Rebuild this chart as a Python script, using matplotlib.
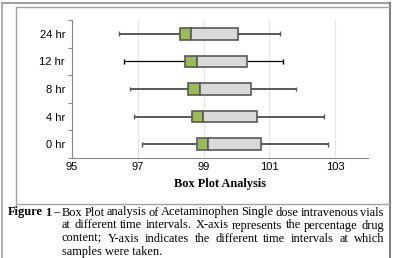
import matplotlib
matplotlib.use("Agg")
import matplotlib.pyplot as plt
from matplotlib.lines import Line2D

# ---- data ----
categories = ["0 hr", "4 hr", "8 hr", "12 hr", "24 hr"]
wmin = [97.13, 96.87, 96.77, 96.58, 96.42]
q1 = [98.80, 98.66, 98.53, 98.43, 98.28]
med = [99.13, 98.98, 98.88, 98.80, 98.61]
q3 = [100.74, 100.61, 100.43, 100.31, 100.06]
wmax = [102.78, 102.65, 101.80, 101.42, 101.32]
xticks = [95, 97, 99, 101, 103]
xlabel = "Box Plot Analysis"
caption_lines = [
    "Figure 1 \u2013 Box Plot analysis of Acetaminophen Single dose intravenous vials",
    "at different time intervals. X-axis represents the percentage drug",
    "content; Y-axis indicates the different time intervals at which",
    "samples were taken.",
]

W, H = 394, 258
fig = plt.figure(figsize=(W / 100, H / 100), dpi=100)
fig.patch.set_facecolor("white")

def fx(px):
    return px / W

def fy(py):
    return 1 - py / H

ax = fig.add_axes([fx(72), fy(158), fx(368) - fx(72), fy(20) - fy(158)])
ypos = list(range(len(categories)))
green = "#9BBB59"
light = "#D9D9D9"
edge = "#595959"
bh = 0.42
widths_lo = [m - a for m, a in zip(med, q1)]
widths_hi = [b - m for b, m in zip(q3, med)]
ax.barh(ypos, widths_lo, left=q1, height=bh, color=green, edgecolor=edge, linewidth=1.2, zorder=3)
ax.barh(ypos, widths_hi, left=med, height=bh, color=light, edgecolor=edge, linewidth=1.2, zorder=3)
for i, y in enumerate(ypos):
    c = "black" if categories[i] == "12 hr" else edge
    lw = 0.9 if categories[i] == "12 hr" else 1.4
    ax.hlines(y, wmin[i], q1[i], color=c, lw=lw, zorder=2)
    ax.hlines(y, q3[i], wmax[i], color=c, lw=lw, zorder=2)
    ax.vlines([wmin[i], wmax[i]], y - 0.09, y + 0.09, color=c, lw=1.0, zorder=2)

tick_font = "Liberation Sans"
ax.set_xlim(95, 104)
ax.set_ylim(-0.5, 4.5)
ax.set_xticks(xticks)
ax.set_xticklabels([str(t) for t in xticks], fontsize=8, family=tick_font)
ax.set_yticks(ypos)
ax.set_yticklabels(categories, fontsize=8, family=tick_font)
ax.set_yticks([y - 0.5 for y in range(len(categories) + 1)], minor=True)
ax.tick_params(axis="y", which="major", length=0, pad=5)
ax.tick_params(axis="y", which="minor", length=3, color="#868686", width=0.8)
ax.tick_params(axis="x", which="major", length=0, pad=3)
ax.grid(axis="x", color="#E6E6E6", lw=0.8, zorder=0)
for s in ["top", "right"]:
    ax.spines[s].set_visible(False)
for s in ["left", "bottom"]:
    ax.spines[s].set_color("#868686")
    ax.spines[s].set_linewidth(0.8)
ax.set_xlabel(xlabel, fontsize=8.8, family="Liberation Serif", fontweight="bold", labelpad=4)

# frames
def fline(xs, ys, color, lw):
    fig.add_artist(Line2D([fx(x) for x in xs], [fy(y) for y in ys], color=color, lw=lw,
                          transform=fig.transFigure))

fline([1.5, 390], [3, 3], "#A0A0A0", 1.5)
fline([1.5, 1.5], [3, 258], "#A0A0A0", 1.2)
fline([390, 390], [3, 258], "#808080", 1.5)
fline([16, 390], [7, 7], "#A0A0A0", 1.0)
fline([16, 16], [7, 204], "#A0A0A0", 1.0)
fline([16, 390], [204, 204], "#A0A0A0", 1.0)

# caption, justified
fam = "Liberation Serif"
fs = 8.9
fig.canvas.draw()
renderer = fig.canvas.get_renderer()

def word_width(w, bold):
    t = fig.text(0, 0, w, fontsize=fs, family=fam, fontweight="bold" if bold else "normal")
    bb = t.get_window_extent(renderer)
    t.remove()
    return bb.width

def place_line(line, x0, x1, ybase, justify, bold_n=0):
    if not justify:
        fig.text(fx(x0), fy(ybase), line, fontsize=fs, family=fam, ha="left", va="baseline")
        return
    words = line.split(" ")
    bolds = [i < bold_n for i in range(len(words))]
    ws = [word_width(w, b) for w, b in zip(words, bolds)]
    gap = max((x1 - x0 - sum(ws)) / (len(words) - 1), 2.0)
    x = x0
    for w, b, wd in zip(words, bolds, ws):
        fig.text(fx(x), fy(ybase), w, fontsize=fs, family=fam,
                 fontweight="bold" if b else "normal", ha="left", va="baseline")
        x += wd + gap

bases = [215.5, 228.5, 241.5, 254.5]
place_line(caption_lines[0], 8, 384, bases[0], True, bold_n=2)
place_line(caption_lines[1], 62, 384, bases[1], True)
place_line(caption_lines[2], 62, 384, bases[2], True)
place_line(caption_lines[3], 62, 384, bases[3], False)

fig.savefig("out.png", dpi=100)
